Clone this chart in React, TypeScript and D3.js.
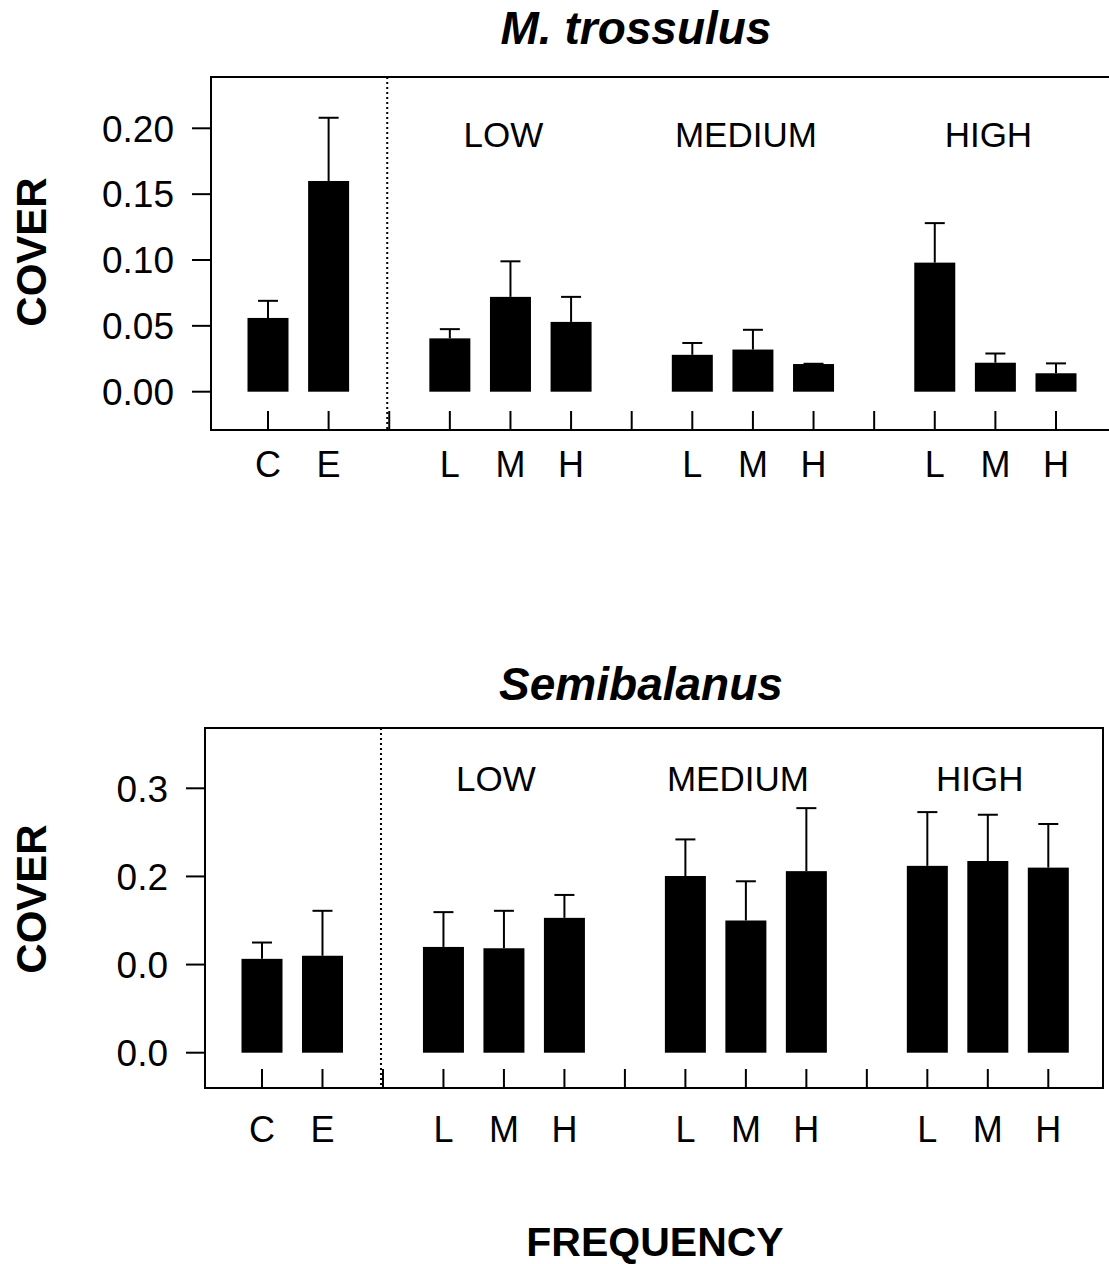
import React from "react";
import * as d3 from "d3";

// ---- data ----
const treatments = ["C", "E"];
const frequencyGroups = ["LOW", "MEDIUM", "HIGH"];
const intensities = ["L", "M", "H"];

const mytilusMeans = [0.056, 0.16, 0.0405, 0.072, 0.053, 0.028, 0.032, 0.021, 0.098, 0.022, 0.014];
const mytilusUpper = [0.069, 0.208, 0.0475, 0.099, 0.072, 0.037, 0.047, 0.0212, 0.128, 0.029, 0.0215];

const semiMeans = [0.1065, 0.11, 0.12, 0.1185, 0.153, 0.2005, 0.15, 0.206, 0.212, 0.2175, 0.21];
const semiUpper = [0.125, 0.161, 0.1595, 0.161, 0.179, 0.242, 0.1945, 0.2775, 0.273, 0.27, 0.2595];

const mytilusTicks = [0, 0.05, 0.1, 0.15, 0.2];
const mytilusTickLabels = ["0.00", "0.05", "0.10", "0.15", "0.20"];
const semiTicks = [0, 0.1, 0.2, 0.3];
const semiTickLabels = ["0.0", "0.0", "0.2", "0.3"];

const FONT = "'Liberation Sans', Arial, Helvetica, sans-serif";

// slot layout: C, E, [sep], L M H, [sep], L M H, [sep], L M H
function buildSlots() {
  const bars: { slot: number; label: string }[] = [];
  const seps: number[] = [];
  let s = 0;
  treatments.forEach((t) => bars.push({ slot: s++, label: t }));
  const groupCenters: number[] = [];
  frequencyGroups.forEach(() => {
    seps.push(s++);
    const start = s;
    intensities.forEach((lab) => bars.push({ slot: s++, label: lab }));
    groupCenters.push((start + s - 1) / 2);
  });
  return { bars, seps, groupCenters, nSlots: s };
}
const layout = buildSlots();

type PanelProps = {
  title: string;
  titleX: number;
  means: number[];
  upper: number[];
  ticks: number[];
  tickLabels: string[];
  x0: number;
  x13: number;
  left: number;
  right: number;
  top: number;
  bottom: number;
  yZero: number;
  yTopVal: number;
  yTopPx: number;
  titleY: number;
  groupY: number;
  groupShift: number;
  labelY: number;
  coverY: number;
};

function Panel(p: PanelProps) {
  const x = d3.scaleLinear().domain([0, layout.nSlots - 1]).range([p.x0, p.x13]);
  const y = d3.scaleLinear().domain([0, p.yTopVal]).range([p.yZero, p.yTopPx]);
  const bw = 41;
  const cap = 20;
  const allSlots = d3.range(layout.nSlots);
  return (
    <g>
      <text x={p.titleX} y={p.titleY} textAnchor="middle" fontFamily={FONT}
        fontWeight="bold" fontStyle="italic" fontSize={46}>{p.title}</text>
      {/* box */}
      <path d={`M${p.left},${p.bottom}V${p.top}H${p.right}V${p.bottom}Z`} fill="none" stroke="#000" strokeWidth={2} />
      {/* dotted separator */}
      <line x1={x(layout.seps[0]) - 2} x2={x(layout.seps[0]) - 2} y1={p.top} y2={p.bottom}
        stroke="#000" strokeWidth={2} strokeDasharray="2,3" />
      {/* y ticks */}
      {p.ticks.map((t, i) => (
        <g key={i}>
          <line x1={p.left - 19} x2={p.left} y1={y(t)} y2={y(t)} stroke="#000" strokeWidth={2} />
          <text x={p.left - 37} y={y(t)} dy="0.36em" textAnchor="end" fontFamily={FONT} fontSize={37}>
            {p.tickLabels[i]}
          </text>
        </g>
      ))}
      {/* x ticks */}
      {allSlots.map((s) => (
        <line key={s} x1={x(s)} x2={x(s)} y1={p.bottom - 19} y2={p.bottom} stroke="#000" strokeWidth={2} />
      ))}
      {/* bars */}
      {layout.bars.map((b, i) => (
        <g key={i}>
          <line x1={x(b.slot)} x2={x(b.slot)} y1={y(p.means[i])} y2={y(p.upper[i])} stroke="#000" strokeWidth={2} />
          <line x1={x(b.slot) - cap / 2} x2={x(b.slot) + cap / 2} y1={y(p.upper[i])} y2={y(p.upper[i])} stroke="#000" strokeWidth={2} />
          <rect x={x(b.slot) - bw / 2} y={y(p.means[i])} width={bw} height={y(0) - y(p.means[i])} fill="#000" />
          <text x={x(b.slot)} y={p.labelY} textAnchor="middle" fontFamily={FONT} fontSize={36}>{b.label}</text>
        </g>
      ))}
      {/* group labels */}
      {frequencyGroups.map((g, i) => (
        <text key={g} x={x(layout.groupCenters[i]) + p.groupShift} y={p.groupY} textAnchor="middle"
          fontFamily={FONT} fontSize={35}>{g}</text>
      ))}
      {/* y label */}
      <text transform={`translate(46,${p.coverY}) rotate(-90)`} textAnchor="middle" fontFamily={FONT}
        fontWeight="bold" fontSize={42}>COVER</text>
    </g>
  );
}

export default function App() {
  return (
    <svg width={1109} height={1264} style={{ position: "absolute", left: 0, top: 0, background: "#fff" }}>
      <rect width={1109} height={1264} fill="#fff" />
      <Panel title="M. trossulus" titleX={636} means={mytilusMeans} upper={mytilusUpper} ticks={mytilusTicks}
        tickLabels={mytilusTickLabels} x0={268} x13={1056} left={211} right={1112} top={77} bottom={430}
        yZero={391.7} yTopVal={0.2} yTopPx={128.3} titleY={44} groupY={147} groupShift={-7}
        labelY={477} coverY={252} />
      <Panel title="Semibalanus" titleX={641} means={semiMeans} upper={semiUpper} ticks={semiTicks}
        tickLabels={semiTickLabels} x0={262} x13={1048.3} left={205} right={1103} top={728} bottom={1088}
        yZero={1052.7} yTopVal={0.3} yTopPx={788.3} titleY={700} groupY={791} groupShift={-8}
        labelY={1142} coverY={899} />
      <text x={655} y={1256} textAnchor="middle" fontFamily={FONT} fontWeight="bold" fontSize={41}>FREQUENCY</text>
    </svg>
  );
}
